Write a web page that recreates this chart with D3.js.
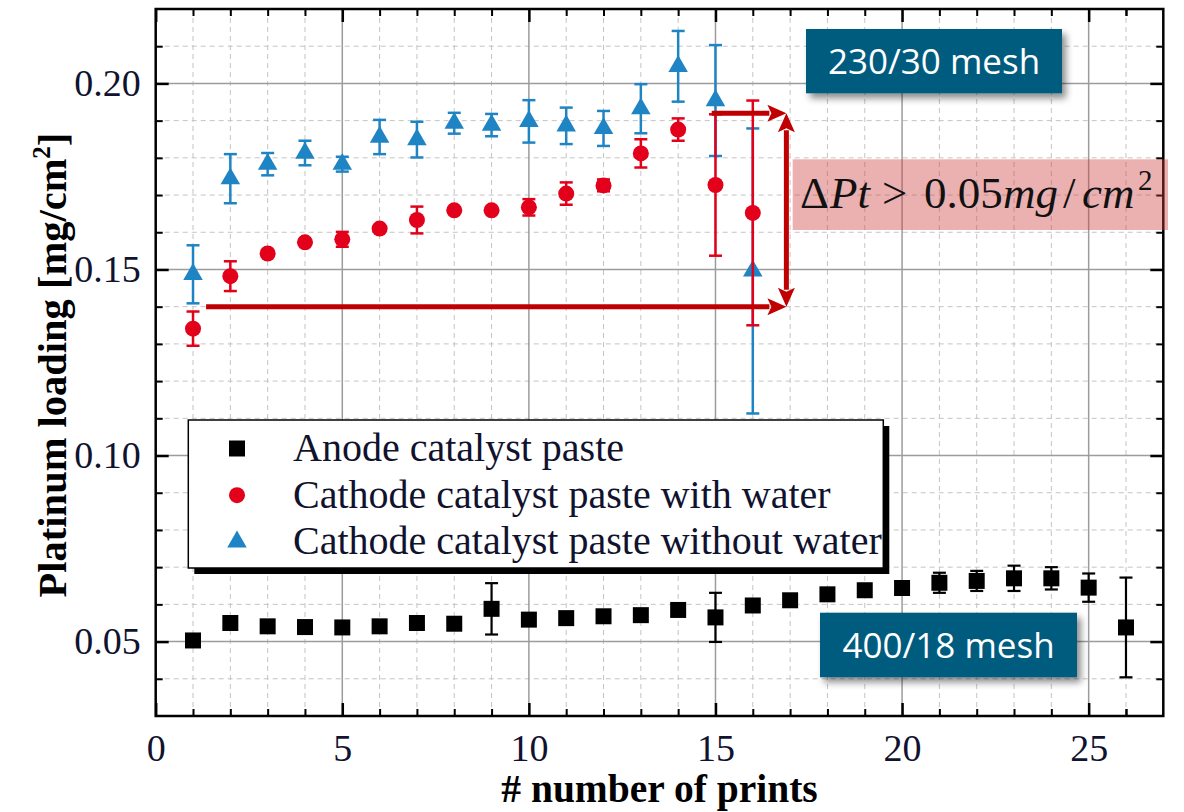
<!DOCTYPE html>
<html><head><meta charset="utf-8">
<script src="https://cdn.jsdelivr.net/npm/d3@7/dist/d3.min.js"></script>
<style>html,body{margin:0;padding:0;background:#fff;} svg{display:block;}</style>
</head><body>
<svg id="chart" width="1184" height="812"></svg>
<script>
// ---------- data ----------
const anodeX = [1,2,3,4,5,6,7,8,9,10,11,12,13,14,15,16,17,18,19,20,21,22,23,24,25,26];
const anodeY = [0.0503,0.0550,0.0541,0.0539,0.0538,0.0541,0.0550,0.0548,0.0588,0.0559,0.0563,0.0568,0.0571,0.0585,0.0565,0.0597,0.0611,0.0627,0.0638,0.0644,0.0658,0.0663,0.0670,0.0670,0.0645,0.0538];
const anodeErr = [0.0005,0.0005,0.0005,0.0005,0.0005,0.0005,0.0005,0.0005,0.0069,0.0005,0.0005,0.0005,0.0005,0.0005,0.0066,0.0005,0.0005,0.0005,0.0005,0.0005,0.0027,0.0027,0.0034,0.0030,0.0038,0.0134];

const cathX = [1,2,3,4,5,6,7,8,9,10,11,12,13,14,15,16];
const waterY = [0.1341,0.1482,0.1543,0.1573,0.1581,0.1610,0.1633,0.1659,0.1659,0.1667,0.1704,0.1726,0.1812,0.1876,0.1727,0.1652];
const waterErr = [0.0046,0.0040,0.0005,0.0005,0.0020,0.0005,0.0036,0.0005,0.0005,0.0022,0.0030,0.0016,0.0038,0.0030,0.0190,0.0302];
const noWaterY = [0.1487,0.1744,0.1783,0.1813,0.1783,0.1856,0.1849,0.1893,0.1888,0.1898,0.1886,0.1879,0.1932,0.2046,0.1954,0.1496];
const noWaterErr = [0.0078,0.0066,0.0030,0.0033,0.0020,0.0046,0.0048,0.0028,0.0030,0.0057,0.0049,0.0047,0.0066,0.0095,0.0149,0.0383];

const xMajorTicks = [0,5,10,15,20,25];
const yMajorTicks = [0.05,0.10,0.15,0.20];
const xTickLabels = ["0","5","10","15","20","25"];
const yTickLabels = ["0.05","0.10","0.15","0.20"];
const seriesNames = ["Anode catalyst paste","Cathode catalyst paste with water","Cathode catalyst paste without water"];
const xTitle = "# number of prints";
const yTitle = "Platinum loading [mg/cm";
const meshLabels = ["230/30 mesh","400/18 mesh"];
// arrows: [xStart, xEnd, y]
const arrowH = [[1.35,16.9,0.140],[14.9,16.9,0.192]];
const arrowV = [16.9,0.192,0.140];

// ---------- setup ----------
const svg = d3.select("#chart");
const L=155.7, R=1163.3, T=9, B=716;
const x = d3.scaleLinear().domain([0,27]).range([L,R]);
const y = d3.scaleLinear().domain([0.03,0.22]).range([B,T]);
const serif = "'Liberation Serif','Times New Roman',serif";
const textCol = "#10122e";
const blue = "#1f84c4", red = "#e2001a", darkRed = "#c00000";

const defs = svg.append("defs");
const f = defs.append("filter").attr("id","shadow").attr("x","-10%").attr("y","-20%").attr("width","130%").attr("height","160%");
f.append("feDropShadow").attr("dx",4).attr("dy",5).attr("stdDeviation",3.5).attr("flood-color","#000").attr("flood-opacity",0.45);

// ---------- grid ----------
const minorX = d3.range(1,27).filter(v=>v%5!==0);
const minorY = d3.range(4,22).map(v=>v/100).filter(v=>Math.round(v*100)%5!==0);
const g = svg.append("g");
g.selectAll(".mx").data(minorX).join("line").attr("x1",d=>x(d)).attr("x2",d=>x(d)).attr("y1",T).attr("y2",B)
  .attr("stroke","#c4c4c4").attr("stroke-width",1).attr("stroke-dasharray","5,4");
g.selectAll(".my").data(minorY).join("line").attr("y1",d=>y(d)).attr("y2",d=>y(d)).attr("x1",L).attr("x2",R)
  .attr("stroke","#c4c4c4").attr("stroke-width",1).attr("stroke-dasharray","5,4");
g.selectAll(".Mx").data(xMajorTicks.slice(1)).join("line").attr("x1",d=>x(d)).attr("x2",d=>x(d)).attr("y1",T).attr("y2",B)
  .attr("stroke","#9c9c9c").attr("stroke-width",1.5);
g.selectAll(".My").data(yMajorTicks).join("line").attr("y1",d=>y(d)).attr("y2",d=>y(d)).attr("x1",L).attr("x2",R)
  .attr("stroke","#9c9c9c").attr("stroke-width",1.5);

// ---------- series ----------
function errorBars(xs, ys, es, color, w){
  const gg = svg.append("g").attr("stroke",color).attr("stroke-width",w);
  xs.forEach((xv,i)=>{
    const cx=x(xv), y1=y(ys[i]+es[i]), y2=y(ys[i]-es[i]);
    gg.append("line").attr("x1",cx).attr("x2",cx).attr("y1",y1).attr("y2",y2);
    gg.append("line").attr("x1",cx-6.5).attr("x2",cx+6.5).attr("y1",y1).attr("y2",y1);
    gg.append("line").attr("x1",cx-6.5).attr("x2",cx+6.5).attr("y1",y2).attr("y2",y2);
  });
}
const sq = d3.symbol(d3.symbolSquare,256)();
const tri = d3.symbol(d3.symbolTriangle,165)();

errorBars(anodeX, anodeY, anodeErr, "#000", 2.2);
svg.append("g").selectAll("path").data(anodeX).join("path").attr("d",sq)
  .attr("transform",(d,i)=>`translate(${x(d)},${y(anodeY[i])})`).attr("fill","#000");

errorBars(cathX, noWaterY, noWaterErr, blue, 2.5);
svg.append("g").selectAll("path").data(cathX).join("path").attr("d",tri)
  .attr("transform",(d,i)=>`translate(${x(d)},${y(noWaterY[i])})`).attr("fill",blue);

errorBars(cathX, waterY, waterErr, red, 2.5);
svg.append("g").selectAll("circle").data(cathX).join("circle").attr("r",8)
  .attr("cx",d=>x(d)).attr("cy",(d,i)=>y(waterY[i])).attr("fill",red);

// ---------- arrows ----------
const ag = svg.append("g").attr("fill",darkRed);
const HL=19, HW=8.5;
arrowH.forEach(a=>{
  const x0=x(a[0]), x1=x(a[1]), yy=y(a[2]);
  ag.append("line").attr("x1",x0).attr("x2",x1-HL+2).attr("y1",yy).attr("y2",yy).attr("stroke",darkRed).attr("stroke-width",5);
  ag.append("path").attr("d",`M${x1},${yy} L${x1-HL},${yy-HW} L${x1-HL+4},${yy} L${x1-HL},${yy+HW} Z`);
});
{
  const vx=x(arrowV[0]), ya=y(arrowV[1]), yb=y(arrowV[2]);
  ag.append("line").attr("x1",vx).attr("x2",vx).attr("y1",ya+HL-2).attr("y2",yb-HL+2).attr("stroke",darkRed).attr("stroke-width",5);
  ag.append("path").attr("d",`M${vx},${ya} L${vx-HW},${ya+HL} L${vx},${ya+HL-4} L${vx+HW},${ya+HL} Z`);
  ag.append("path").attr("d",`M${vx},${yb} L${vx-HW},${yb-HL} L${vx},${yb-HL+4} L${vx+HW},${yb-HL} Z`);
}

// ---------- axes ----------
function styleAxis(sel){ sel.select(".domain").remove(); sel.selectAll("line").attr("stroke","#000"); }
const ax = svg.append("g");
ax.append("g").attr("transform",`translate(0,${B})`)
  .call(d3.axisBottom(x).tickValues(xMajorTicks).tickSize(-13).tickPadding(18).tickFormat((d,i)=>xTickLabels[i]))
  .call(styleAxis).call(s=>s.selectAll("line").attr("stroke-width",2.5))
  .call(s=>s.selectAll("text").attr("font-family",serif).attr("font-size",38).attr("fill",textCol));
ax.append("g").attr("transform",`translate(0,${B})`)
  .call(d3.axisBottom(x).tickValues(minorX.concat([26])).tickSize(-7).tickFormat(""))
  .call(styleAxis).call(s=>s.selectAll("line").attr("stroke-width",2));
ax.append("g").attr("transform",`translate(0,${T})`)
  .call(d3.axisTop(x).tickValues(xMajorTicks).tickSize(-13).tickFormat(""))
  .call(styleAxis).call(s=>s.selectAll("line").attr("stroke-width",2.5));
ax.append("g").attr("transform",`translate(0,${T})`)
  .call(d3.axisTop(x).tickValues(minorX.concat([26])).tickSize(-7).tickFormat(""))
  .call(styleAxis).call(s=>s.selectAll("line").attr("stroke-width",2));
ax.append("g").attr("transform",`translate(${L},0)`)
  .call(d3.axisLeft(y).tickValues(yMajorTicks).tickSize(-13).tickPadding(15).tickFormat((d,i)=>yTickLabels[i]))
  .call(styleAxis).call(s=>s.selectAll("line").attr("stroke-width",2.5))
  .call(s=>s.selectAll("text").attr("font-family",serif).attr("font-size",38).attr("fill",textCol));
ax.append("g").attr("transform",`translate(${L},0)`)
  .call(d3.axisLeft(y).tickValues(minorY).tickSize(-7).tickFormat(""))
  .call(styleAxis).call(s=>s.selectAll("line").attr("stroke-width",2));
ax.append("g").attr("transform",`translate(${R},0)`)
  .call(d3.axisRight(y).tickValues(yMajorTicks).tickSize(-13).tickFormat(""))
  .call(styleAxis).call(s=>s.selectAll("line").attr("stroke-width",2.5));
ax.append("g").attr("transform",`translate(${R},0)`)
  .call(d3.axisRight(y).tickValues(minorY).tickSize(-7).tickFormat(""))
  .call(styleAxis).call(s=>s.selectAll("line").attr("stroke-width",2));
svg.append("rect").attr("x",L).attr("y",T).attr("width",R-L).attr("height",B-T)
  .attr("fill","none").attr("stroke","#000").attr("stroke-width",2.5);

// axis titles
svg.append("text").attr("x",(L+R)/2).attr("y",802).attr("text-anchor","middle")
  .attr("font-family",serif).attr("font-weight","bold").attr("font-size",39.5).attr("fill","#000").text(xTitle);
const yt = svg.append("text").attr("transform","translate(66,365) rotate(-90)").attr("text-anchor","middle")
  .attr("font-family",serif).attr("font-weight","bold").attr("font-size",40.5).attr("fill","#000");
yt.append("tspan").text(yTitle);
yt.append("tspan").attr("font-size",25).attr("dy",-16).text("2");
yt.append("tspan").attr("dy",16).text("]");

// ---------- legend ----------
const lg = svg.append("g");
lg.append("rect").attr("x",194.3).attr("y",426).attr("width",695).attr("height",148).attr("fill","#000");
lg.append("rect").attr("x",188.3).attr("y",420).attr("width",695).attr("height",148).attr("fill","#fff").attr("stroke","#000").attr("stroke-width",1.5);
const rows = [461,507.7,554.3];
lg.append("path").attr("d",sq).attr("transform",`translate(237,${rows[0]-12.5})`).attr("fill","#000");
lg.append("circle").attr("r",8).attr("cx",237).attr("cy",rows[1]-12.5).attr("fill",red);
lg.append("path").attr("d",tri).attr("transform",`translate(237,${rows[2]-12.5})`).attr("fill",blue);
seriesNames.forEach((s,i)=>{
  lg.append("text").attr("x",293).attr("y",rows[i]).attr("font-family",serif).attr("font-size",40).attr("fill",textCol).text(s);
});

// ---------- annotations ----------
const pink = svg.append("g");
pink.append("rect").attr("x",792.7).attr("y",159.3).attr("width",375.3).attr("height",70.7).attr("fill","rgba(205,60,60,0.4)");
const dt = pink.append("text").attr("y",208).attr("font-family",serif).attr("font-size",45).attr("fill","#111");
dt.append("tspan").attr("x",800).text("Δ");
dt.append("tspan").attr("x",830).attr("font-style","italic").text("Pt");
dt.append("tspan").attr("x",882).text(">");
dt.append("tspan").attr("x",924).text("0.05");
dt.append("tspan").attr("x",1003).attr("font-style","italic").text("mg");
dt.append("tspan").attr("x",1063).text("/");
dt.append("tspan").attr("x",1082).attr("font-style","italic").text("cm");
dt.append("tspan").attr("x",1138).attr("font-size",29).attr("dy",-18).text("2");

const meshBoxes = [[806,29,256,64.3],[820,612.7,257,64.6]];
meshBoxes.forEach((b,i)=>{
  svg.append("rect").attr("x",b[0]).attr("y",b[1]).attr("width",b[2]).attr("height",b[3]).attr("fill","#035b7f").attr("filter","url(#shadow)");
  svg.append("text").attr("x",b[0]+b[2]/2).attr("y",b[1]+b[3]/2+13).attr("text-anchor","middle")
    .attr("font-family","'Open Sans','Noto Sans',sans-serif").attr("font-size",35).attr("fill","#fff").text(meshLabels[i]);
});
</script>
</body></html>
